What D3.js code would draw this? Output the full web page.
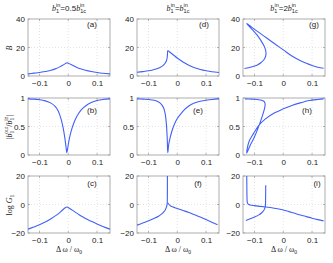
<!DOCTYPE html>
<html><head><meta charset="utf-8">
<script src="https://cdn.jsdelivr.net/npm/d3@7"></script>
<style>body{margin:0;background:#fff}svg{display:block}text{font-family:"Liberation Sans",Arial,sans-serif;fill:#222}</style>
</head><body><svg id="c" width="333" height="263"></svg>
<script>
const xTicks = [-0.1, 0, 0.1];
const xTickLabels = ["\u22120.1", "0", "0.1"];
const rowTicks = [[0, 20, 40], [0, 0.5, 1], [-20, 0, 20]];
const rowTickLabels = [["0", "20", "40"], ["0", "0.5", "1"], ["\u221220", "0", "20"]];
const rowDomains = [[0, 40], [0, 1], [-20, 20]];
const panelLabels = ["(a)", "(d)", "(g)", "(b)", "(e)", "(h)", "(c)", "(f)", "(i)"];

// Row 1: B
const pa = [[-0.14,1.5],[-0.12,2.0],[-0.10,2.5],[-0.08,3.2],[-0.06,4.0],[-0.045,5.0],[-0.03,6.4],[-0.02,7.5],[-0.01,8.7],[-0.005,9.3],[0.0,8.9],[0.01,8.0],[0.02,7.0],[0.03,6.0],[0.045,4.9],[0.06,4.0],[0.08,3.1],[0.10,2.4],[0.12,1.9],[0.145,1.5]];
const pd = [[-0.14,2.6],[-0.12,3.1],[-0.10,3.7],[-0.08,4.6],[-0.06,6.0],[-0.05,7.3],[-0.043,8.8],[-0.038,10.5],[-0.035,13],[-0.034,15.5],[-0.033,17.8],[-0.028,17.0],[-0.02,15.8],[-0.01,14.2],[0,12.6],[0.02,9.8],[0.04,7.5],[0.06,5.8],[0.08,4.6],[0.10,3.7],[0.12,3.0],[0.145,2.5]];
const pg = [[-0.135,5.3],[-0.12,5.8],[-0.105,6.6],[-0.09,7.8],[-0.078,9.3],[-0.068,11.2],[-0.062,13.5],[-0.06,16],[-0.062,18.5],[-0.068,21.5],[-0.078,25],[-0.09,28.5],[-0.105,32],[-0.12,35.2],[-0.127,36.8],[-0.11,34.3],[-0.09,31.3],[-0.06,27],[-0.03,22.6],[0,18.3],[0.03,14.0],[0.06,10.7],[0.08,8.9],[0.10,7.4],[0.12,6.2],[0.14,5.4]];
// Row 2: |b_out/b_in|
const pb = [[-0.14,0.985],[-0.12,0.98],[-0.1,0.97],[-0.08,0.95],[-0.06,0.91],[-0.045,0.85],[-0.035,0.77],[-0.025,0.63],[-0.018,0.48],[-0.012,0.3],[-0.008,0.15],[-0.005,0.04],[-0.002,0.12],[0.003,0.27],[0.01,0.42],[0.02,0.57],[0.03,0.68],[0.045,0.79],[0.06,0.86],[0.08,0.92],[0.1,0.955],[0.12,0.975],[0.145,0.985]];
const pe = [[-0.14,0.985],[-0.12,0.98],[-0.1,0.975],[-0.08,0.96],[-0.065,0.93],[-0.055,0.89],[-0.047,0.82],[-0.042,0.72],[-0.038,0.55],[-0.035,0.3],[-0.033,0.04],[-0.03,0.18],[-0.025,0.3],[-0.018,0.43],[-0.01,0.54],[0,0.64],[0.015,0.74],[0.03,0.82],[0.05,0.89],[0.07,0.93],[0.1,0.96],[0.12,0.975],[0.145,0.985]];
const ph = [[-0.133,0.985],[-0.11,0.98],[-0.09,0.975],[-0.075,0.96],[-0.066,0.935],[-0.063,0.89],[-0.066,0.8],[-0.075,0.65],[-0.087,0.48],[-0.1,0.32],[-0.112,0.2],[-0.121,0.1],[-0.127,0.03],[-0.125,0.12],[-0.118,0.25],[-0.103,0.38],[-0.085,0.52],[-0.063,0.63],[-0.03,0.74],[0,0.81],[0.03,0.87],[0.063,0.92],[0.09,0.955],[0.12,0.975],[0.14,0.985]];
// Row 3: log G1
const pc = [[-0.14,-17.3],[-0.12,-15.8],[-0.1,-14.2],[-0.08,-12.3],[-0.06,-10.0],[-0.04,-7.3],[-0.025,-4.8],[-0.012,-2.5],[-0.005,-1.8],[0.005,-2.8],[0.02,-4.8],[0.04,-7.5],[0.06,-9.8],[0.08,-11.8],[0.1,-13.7],[0.12,-15.4],[0.145,-17.3]];
const pfLeft = [[-0.14,-14.5],[-0.12,-13.0],[-0.1,-11.4],[-0.08,-9.7],[-0.065,-8.2],[-0.055,-6.8],[-0.047,-5.2],[-0.042,-3.8],[-0.038,-2.0],[-0.036,-0.5],[-0.035,1.0],[-0.0345,5],[-0.0343,20]];
const pfRight = [[-0.0335,1.2],[-0.025,-0.8],[-0.015,-1.8],[0,-2.8],[0.02,-4.2],[0.04,-5.6],[0.06,-7.2],[0.08,-8.8],[0.1,-10.6],[0.12,-12.4],[0.14,-14.2]];
const piUpper = [[-0.127,20],[-0.1265,10],[-0.126,4],[-0.125,1.5],[-0.122,0.3],[-0.115,-0.3],[-0.1,-0.8],[-0.08,-1.3],[-0.06,-1.8],[-0.04,-2.3],[-0.02,-3.0],[0,-3.8],[0.02,-5.0],[0.04,-6.2],[0.06,-7.4],[0.08,-8.5],[0.1,-9.6],[0.12,-10.6],[0.14,-11.5]];
const piLower = [[-0.13,-11.2],[-0.115,-10.0],[-0.1,-8.8],[-0.085,-7.3],[-0.075,-5.8],[-0.068,-4.2],[-0.064,-2.5],[-0.062,-0.5],[-0.0615,3],[-0.061,13.5]];

const series = [[pa],[pd],[pg],[pb],[pe],[ph],[pc],[pfLeft,pfRight],[piUpper,piLower]];

const colX = [28, 137, 243], W = 82;
const rowY = [19, 98, 176], H = 57;
const labelPos = [[92,27],[204,27],[314,27],[92,113],[198,113],[307,113],[92,186],[198,186],[317,186]];

const svg = d3.select("#c");
const blue = "#4060f8";

for (let r = 0; r < 3; r++) {
  for (let c = 0; c < 3; c++) {
    const x = d3.scaleLinear().domain([-0.14, 0.145]).range([colX[c], colX[c] + W]);
    const y = d3.scaleLinear().domain(rowDomains[r]).range([rowY[r] + H, rowY[r]]);
    const g = svg.append("g");
    const clipId = "clip" + r + c;
    g.append("clipPath").attr("id", clipId).append("rect")
      .attr("x", colX[c]).attr("y", rowY[r]).attr("width", W).attr("height", H);
    // grid
    xTicks.forEach(t => g.append("line").attr("x1", x(t)).attr("x2", x(t)).attr("y1", rowY[r]).attr("y2", rowY[r]+H)
      .attr("stroke", "#d0d0d0").attr("stroke-width", 0.6).attr("stroke-dasharray", "1,2"));
    g.append("line").attr("x1", colX[c]).attr("x2", colX[c]+W).attr("y1", y(rowTicks[r][1])).attr("y2", y(rowTicks[r][1]))
      .attr("stroke", "#d0d0d0").attr("stroke-width", 0.6).attr("stroke-dasharray", "1,2");
    // axes
    const xa = d3.axisBottom(x).tickValues(xTicks).tickFormat((d,i) => xTickLabels[i]).tickSize(0).tickPadding(4);
    const ya = d3.axisLeft(y).tickValues(rowTicks[r]).tickFormat((d,i) => rowTickLabels[r][i]).tickSize(0).tickPadding(3);
    const gx = g.append("g").attr("transform", `translate(0,${rowY[r]+H})`).call(xa);
    const gy = g.append("g").attr("transform", `translate(${colX[c]},0)`).call(ya);
    [gx, gy].forEach(a => { a.select(".domain").remove(); a.selectAll("text").attr("font-size", 8).attr("fill", "#222").style("font-family", "Liberation Sans, Arial, sans-serif"); });
    // tick marks inward
    xTicks.forEach(t => { g.append("line").attr("x1", x(t)).attr("x2", x(t)).attr("y1", rowY[r]+H).attr("y2", rowY[r]+H-2).attr("stroke", "#888").attr("stroke-width", 0.6);
                          g.append("line").attr("x1", x(t)).attr("x2", x(t)).attr("y1", rowY[r]).attr("y2", rowY[r]+2).attr("stroke", "#888").attr("stroke-width", 0.6); });
    rowTicks[r].forEach(t => { g.append("line").attr("x1", colX[c]).attr("x2", colX[c]+2).attr("y1", y(t)).attr("y2", y(t)).attr("stroke", "#888").attr("stroke-width", 0.6);
                               g.append("line").attr("x1", colX[c]+W).attr("x2", colX[c]+W-2).attr("y1", y(t)).attr("y2", y(t)).attr("stroke", "#888").attr("stroke-width", 0.6); });
    // frame
    g.append("rect").attr("x", colX[c]).attr("y", rowY[r]).attr("width", W).attr("height", H)
      .attr("fill", "none").attr("stroke", "#999").attr("stroke-width", 0.8);
    // curves
    const line = d3.line().x(d => x(d[0])).y(d => y(d[1])).curve(d3.curveCatmullRom.alpha(0.5));
    series[r*3+c].forEach(s => g.append("path").attr("d", line(s)).attr("clip-path", `url(#${clipId})`)
      .attr("fill", "none").attr("stroke", blue).attr("stroke-width", 1.1));
    // panel label
    const lp = labelPos[r*3+c];
    g.append("text").attr("x", lp[0]).attr("y", lp[1]).attr("text-anchor", "middle").attr("font-size", 8).text(panelLabels[r*3+c]);
  }
}

// column titles
const titleMult = ["0.5", "", "2"];
const colCenters = [69, 178, 284];
colCenters.forEach((cx, i) => {
  const t = svg.append("text").attr("x", cx).attr("y", 11).attr("text-anchor", "middle").attr("font-size", 8);
  t.append("tspan").attr("font-style", "italic").style("font-family", "Liberation Serif, serif").text("b");
  t.append("tspan").attr("font-size", 5.5).attr("dy", 2).text("1");
  t.append("tspan").attr("font-size", 5.5).attr("dx", -3).attr("dy", -6).text("in");
  t.append("tspan").attr("dy", 4).text("=" + titleMult[i]);
  t.append("tspan").attr("font-style", "italic").style("font-family", "Liberation Serif, serif").text("b");
  t.append("tspan").attr("font-size", 5.5).attr("dy", 2).text("1c");
  t.append("tspan").attr("font-size", 5.5).attr("dx", -6).attr("dy", -6).text("in");
});

// x labels
colCenters.forEach(cx => {
  const t = svg.append("text").attr("x", cx).attr("y", 252).attr("text-anchor", "middle").attr("font-size", 8).style("font-family", "Liberation Serif, serif");
  t.append("tspan").text("\u0394 \u03c9 / \u03c9");
  t.append("tspan").attr("font-size", 5.5).attr("dy", 2).text("0");
});

// y labels
const yl1 = svg.append("text").attr("transform", "translate(12,48) rotate(-90)").attr("text-anchor", "middle").attr("font-size", 8);
yl1.append("tspan").attr("font-style", "italic").style("font-family", "Liberation Serif, serif").text("B");
const yl2 = svg.append("text").attr("transform", "translate(12,127) rotate(-90)").attr("text-anchor", "middle").attr("font-size", 8).style("font-family", "Liberation Serif, serif");
yl2.append("tspan").text("|");
yl2.append("tspan").attr("font-style", "italic").text("b");
yl2.append("tspan").attr("font-size", 5.5).attr("dy", 2).text("1");
yl2.append("tspan").attr("font-size", 5.5).attr("dx", -3).attr("dy", -6).text("out");
yl2.append("tspan").attr("dy", 4).text("/");
yl2.append("tspan").attr("font-style", "italic").text("b");
yl2.append("tspan").attr("font-size", 5.5).attr("dy", 2).text("1");
yl2.append("tspan").attr("font-size", 5.5).attr("dx", -3).attr("dy", -6).text("in");
yl2.append("tspan").attr("dy", 4).text("|");
const yl3 = svg.append("text").attr("transform", "translate(12,205) rotate(-90)").attr("text-anchor", "middle").attr("font-size", 8).style("font-family", "Liberation Serif, serif");
yl3.append("tspan").text("log ");
yl3.append("tspan").attr("font-style", "italic").text("G");
yl3.append("tspan").attr("font-size", 5.5).attr("dy", 2).text("1");
</script>
</body></html>
